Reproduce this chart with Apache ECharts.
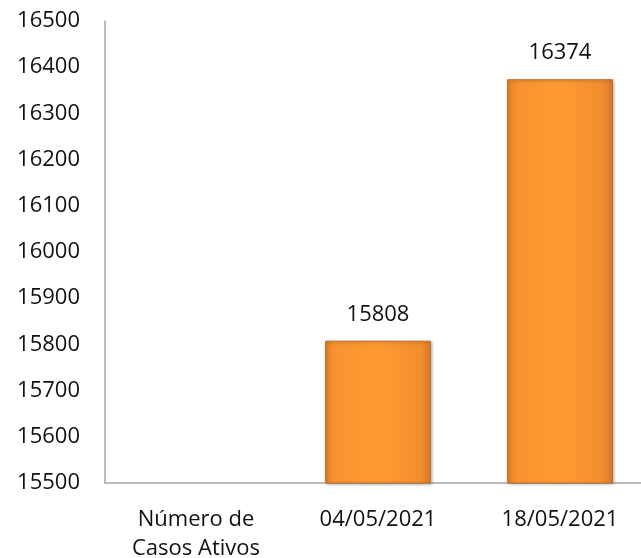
<!DOCTYPE html>
<html><head><meta charset="utf-8">
<script src="https://cdn.jsdelivr.net/npm/echarts@6/dist/echarts.min.js"></script>
<style>html,body{margin:0;padding:0;background:#fff}#c{width:641px;height:558px}</style>
</head><body><div id="c"></div>
<script>
const categories = ['Número de\nCasos Ativos', '04/05/2021', '18/05/2021'];
const values = [null, 15808, 16374];
const yMin = 15500, yMax = 16500, yStep = 100;

const chart = echarts.init(document.getElementById('c'));
const font = '"Open Sans", "Noto Sans", sans-serif';
chart.setOption({
  animation: false,
  grid: { left: 105, width: 546, top: 21, height: 462, containLabel: false, outerBoundsMode: 'none' },
  xAxis: {
    type: 'category', data: categories,
    axisLine: { lineStyle: { color: '#A6A6A6', width: 1.5 } },
    axisTick: { show: false },
    axisLabel: { color: '#111', fontSize: 22, fontFamily: font, margin: 22, lineHeight: 29, interval: 0 }
  },
  yAxis: {
    type: 'value', min: yMin, max: yMax, interval: yStep,
    axisLine: { show: true, lineStyle: { color: '#A6A6A6', width: 1.5 } },
    axisTick: { show: false },
    splitLine: { show: false },
    axisLabel: { color: '#111', fontSize: 22, fontFamily: font, margin: 25, formatter: v => String(v) }
  },
  series: [{
    type: 'bar', data: values, barWidth: 106,
    itemStyle: {
      color: new echarts.graphic.LinearGradient(0, 0, 1, 0, [
        { offset: 0, color: '#E8842A' },
        { offset: 0.1, color: '#F8922F' },
        { offset: 0.5, color: '#FF9A33' },
        { offset: 0.9, color: '#F38E2E' },
        { offset: 1, color: '#D9772A' }
      ]),
      borderColor: '#C9712A', borderWidth: 1,
      shadowColor: 'rgba(0,0,0,0.3)', shadowBlur: 3, shadowOffsetX: 1, shadowOffsetY: 1
    },
    label: { show: true, position: 'top', distance: 15, color: '#111', fontSize: 22, fontFamily: font }
  }]
});
</script></body></html>
